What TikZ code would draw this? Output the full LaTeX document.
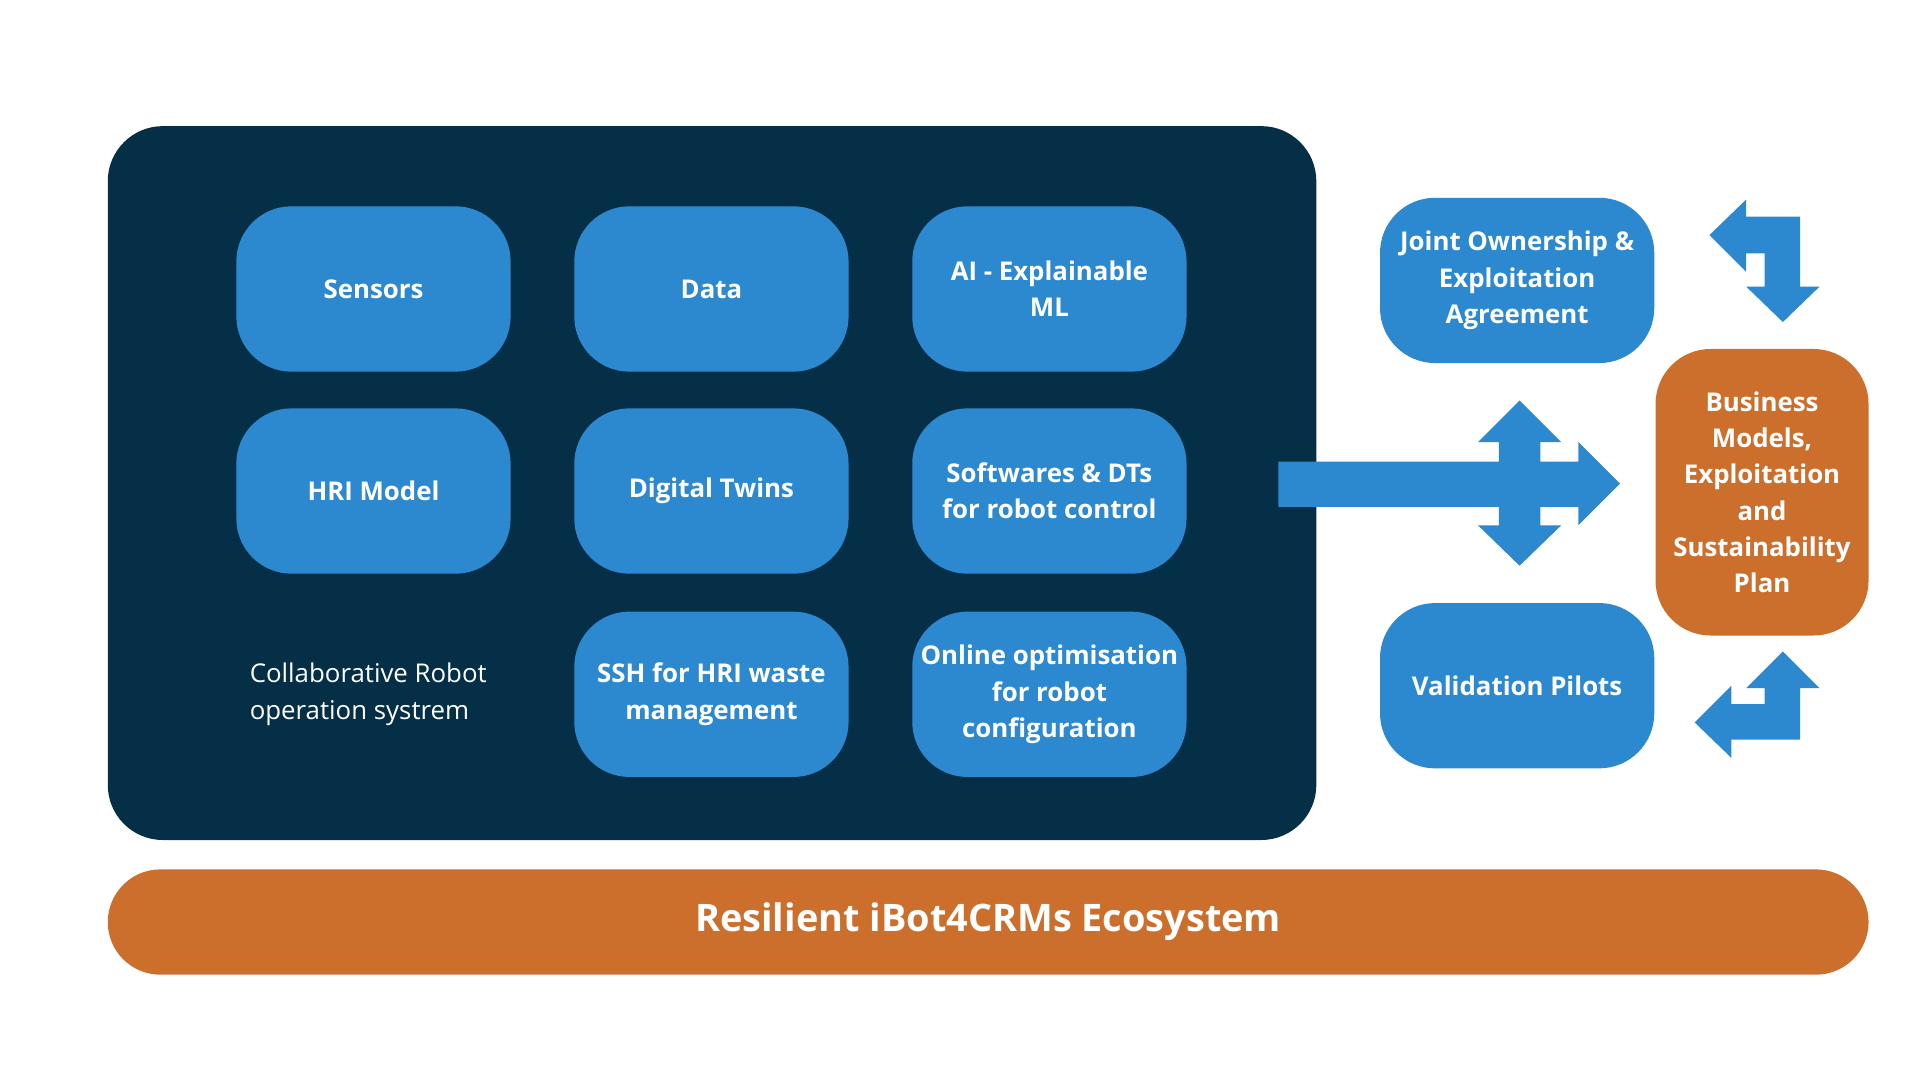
\documentclass[tikz,border=0pt]{standalone}
\usepackage{fontspec}
\setmainfont{Open Sans}
\definecolor{navy}{HTML}{042F47}
\definecolor{skyblue}{HTML}{2D89CF}
\definecolor{rust}{HTML}{CD6F2C}
\tikzset{
  box/.style={fill=skyblue, rounded corners=45*0.025cm, minimum width=224*0.025cm,
    minimum height=135*0.025cm, text=white, align=center,
    font=\fontsize{15}{21}\selectfont\bfseries, inner sep=0pt},
  flow/.style={fill=skyblue}
}
\begin{document}
\begin{tikzpicture}[x=0.025cm,y=-0.025cm]
  \useasboundingbox (0,0) rectangle (1568,882);
  % frame
  \fill [navy, rounded corners=45*0.025cm] (88,103) rectangle (1075,686);
  \node [box] (sensors) at (305,236) {Sensors};
  \node [box] (data) at (581,236) {Data};
  \node [box] (ai) at (857,236) {AI - Explainable\\ML};
  \node [box] (hri) at (305,401) {HRI Model};
  \node [box] (twins) at (581,401) {Digital Twins};
  \node [box] (soft) at (857,401) {Softwares \& DTs\\for robot control};
  \node [box] (ssh) at (581,567) {SSH for HRI waste\\management};
  \node [box] (online) at (857,567) {Online optimisation\\for robot\\configuration};
  \node [anchor=west, text=white, align=left, font=\fontsize{15}{21}\selectfont] (cros) at (199,567)
    {Collaborative Robot\\operation systrem};
  % right side
  \node [box] (joint) at (1239,229) {Joint Ownership \&\\Exploitation\\Agreement};
  \node [box] (pilots) at (1239,560) {Validation Pilots};
  \node [box, fill=rust, minimum width=174*0.025cm, minimum height=234*0.025cm] (plan) at (1439,402)
    {Business\\Models,\\Exploitation\\and\\Sustainability\\Plan};
  % arrows
  \fill [flow] (1044,377) -- (1224,377) -- (1224,361) -- (1207,361) -- (1241,327) -- (1275,361)
    -- (1258,361) -- (1258,377) -- (1289,377) -- (1289,361) -- (1323,395) -- (1289,429)
    -- (1289,414) -- (1258,414) -- (1258,429) -- (1275,429) -- (1241,462) -- (1207,429)
    -- (1224,429) -- (1224,414) -- (1044,414) -- cycle;
  \fill [flow] (1396,192) -- (1426,163) -- (1426,177) -- (1470,177) -- (1470,234) -- (1486,234)
    -- (1456,263) -- (1426,234) -- (1441,234) -- (1441,207) -- (1426,207) -- (1426,222) -- cycle;
  \fill [flow] (1456,532) -- (1486,562) -- (1470,562) -- (1470,604) -- (1414,604) -- (1414,619)
    -- (1384,590) -- (1414,560) -- (1414,575) -- (1441,575) -- (1441,562) -- (1426,562) -- cycle;
  % base
  \node [fill=rust, rounded corners=43*0.025cm, minimum width=1438*0.025cm, minimum height=86*0.025cm,
    text=white, font=\fontsize{22}{26}\selectfont\bfseries, inner sep=0pt] (eco) at (807,753)
    {Resilient iBot4CRMs Ecosystem};
\end{tikzpicture}
\end{document}
